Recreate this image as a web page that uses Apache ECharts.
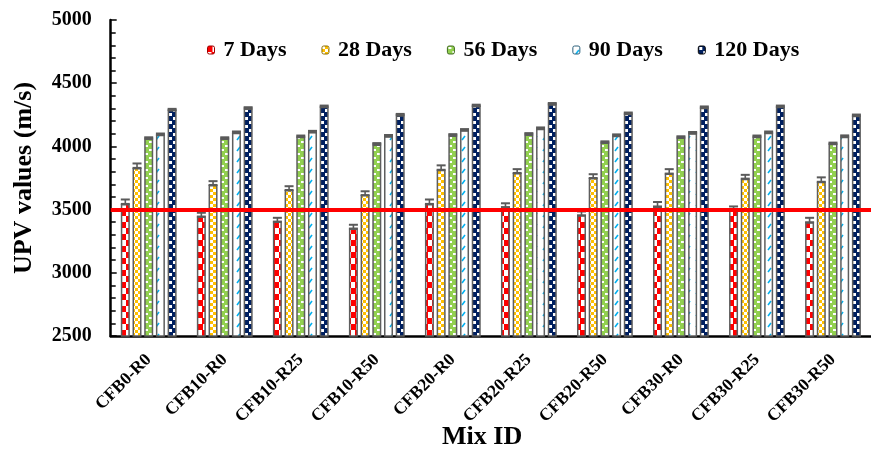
<!DOCTYPE html>
<html>
<head>
<meta charset="utf-8">
<script src="https://cdn.jsdelivr.net/npm/echarts@6/dist/echarts.min.js"></script>
<style>
html,body{margin:0;padding:0;background:#fff;}
#c{width:871px;height:452px;}
</style>
</head>
<body>
<div id="c"></div>
<script>
const categories = ['CFB0-R0','CFB10-R0','CFB10-R25','CFB10-R50','CFB20-R0','CFB20-R25','CFB20-R50','CFB30-R0','CFB30-R25','CFB30-R50'];
const seriesNames = ['7 Days','28 Days','56 Days','90 Days','120 Days'];
const days7   = [3545, 3445, 3405, 3350, 3545, 3520, 3455, 3525, 3495, 3400];
const days28  = [3830, 3695, 3655, 3615, 3815, 3790, 3750, 3785, 3745, 3720];
const days56  = [4062, 4062, 4076, 4016, 4087, 4095, 4030, 4070, 4076, 4020];
const days90  = [4092, 4108, 4113, 4080, 4127, 4140, 4085, 4104, 4108, 4077];
const days120 = [4287, 4300, 4313, 4247, 4320, 4333, 4258, 4306, 4313, 4242];
const err7   = [35, 30, 30, 30, 35, 30, 30, 35, 30, 35];
const err28  = [35, 30, 30, 30, 35, 30, 30, 35, 30, 35];
const err56  = [10, 10, 10, 10, 10, 10, 10, 10, 10, 10];
const err90  = [10, 10, 10, 10, 10, 10, 10, 10, 10, 10];
const err120 = [10, 10, 10, 10, 10, 10, 10, 10, 10, 10];
const refLine = 3495;
const yTicks = [2500, 3000, 3500, 4000, 4500, 5000];

const allValues = [days7, days28, days56, days90, days120];
const allErrors = [err7, err28, err56, err90, err120];

function pattern(w, h, draw) {
  const c = document.createElement('canvas');
  c.width = w; c.height = h;
  const ctx = c.getContext('2d');
  draw(ctx, w, h);
  return { image: c, repeat: 'repeat' };
}
const fills = [
  pattern(9, 12, (x) => { x.fillStyle = '#fff'; x.fillRect(0,0,9,12); x.fillStyle = '#FF0000'; x.fillRect(0,0,5,6); x.fillRect(4,6,5,6); }),
  pattern(6, 6, (x) => { x.fillStyle = '#FFC000'; x.fillRect(0,0,6,6); x.fillStyle = '#fff'; x.fillRect(0,0,3,3); x.fillRect(3,3,3,3); }),
  pattern(8, 8, (x) => { x.fillStyle = '#92D050'; x.fillRect(0,0,8,8); x.fillStyle = '#fff'; x.fillRect(1,1,3,2); x.fillRect(5,5,3,2); }),
  pattern(9, 11, (x) => { x.fillStyle = '#fff'; x.fillRect(0,0,9,11); x.strokeStyle = '#00B0F0'; x.lineWidth = 1.6; x.beginPath(); x.moveTo(3,8); x.lineTo(6,4); x.stroke(); }),
  pattern(8, 8, (x) => { x.fillStyle = '#002060'; x.fillRect(0,0,8,8); x.fillStyle = '#fff'; x.fillRect(1,1,3,3); x.fillRect(5,5,3,3); })
];
const legendBorders = ['#9b0000','#8a6d00','#3f6a1e','#2a5f7a','#000'];

const font = "'Liberation Serif','Times New Roman',serif";
const BAR_W = 9, BAR_GAP = 0.3;

const series = [];
seriesNames.forEach((name, i) => {
  series.push({
    name: name,
    type: 'bar',
    data: allValues[i],
    barWidth: BAR_W,
    barGap: (BAR_GAP * 100) + '%',
    itemStyle: { color: fills[i], borderColor: '#5e5e5e', borderWidth: 1.5 },
    z: 2
  });
});
seriesNames.forEach((name, i) => {
  series.push({
    type: 'custom',
    name: name + ' err',
    z: 3,
    silent: true,
    data: allValues[i].map((v, k) => [k, v, allErrors[i][k]]),
    renderItem: function (params, api) {
      const cat = api.value(0), v = api.value(1), e = api.value(2);
      const off = (i - 2) * BAR_W * (1 + BAR_GAP);
      const lo = api.coord([cat, v]);
      const hi = api.coord([cat, v + e]);
      const x = lo[0] + off;
      const hw = 4.5;
      return { type: 'group', children: [
        { type: 'line', shape: { x1: x, y1: lo[1], x2: x, y2: hi[1] }, style: { stroke: '#5a5a5a', lineWidth: 1.6 } },
        { type: 'line', shape: { x1: x - hw, y1: hi[1], x2: x + hw, y2: hi[1] }, style: { stroke: '#5a5a5a', lineWidth: 2 } },
        { type: 'line', shape: { x1: x - hw, y1: lo[1], x2: x + hw, y2: lo[1] }, style: { stroke: '#5a5a5a', lineWidth: 2 } }
      ]};
    }
  });
});
series.push({
  type: 'line',
  name: 'ref',
  data: [],
  z: 5,
  markLine: {
    silent: true,
    symbol: 'none',
    label: { show: false },
    lineStyle: { color: '#FF0000', width: 4, type: 'solid' },
    data: [{ yAxis: refLine }]
  }
});

const chart = echarts.init(document.getElementById('c'), null, { renderer: 'canvas' });
chart.setOption({
  animation: false,
  backgroundColor: '#fff',
  grid: { left: 110.7, right: -12.7, top: 20, bottom: 116, containLabel: false },
  legend: {
    data: seriesNames.map((n, i) => ({
      name: n,
      itemStyle: { color: fills[i], borderColor: legendBorders[i], borderWidth: 1 }
    })),
    left: 202, top: 34, itemWidth: 7, itemHeight: 8, itemGap: 35,
    textStyle: { fontFamily: font, fontWeight: 'bold', fontSize: 22, color: '#000', padding: [0, 0, 0, 4] }
  },
  xAxis: {
    type: 'category',
    data: categories,
    axisLine: { lineStyle: { color: '#000', width: 2.5 } },
    axisTick: { show: false },
    axisLabel: { interval: 0, rotate: 45, margin: 21, fontFamily: font, fontWeight: 'bold', fontSize: 17.5, color: '#000' },
    splitLine: { show: false }
  },
  yAxis: {
    type: 'value',
    min: yTicks[0], max: yTicks[yTicks.length - 1], interval: 500,
    name: 'UPV values (m/s)',
    nameLocation: 'middle', nameGap: 73, nameRotate: 90,
    nameTextStyle: { fontFamily: font, fontWeight: 'bold', fontSize: 26, color: '#000' },
    axisLine: { show: true, lineStyle: { color: '#000', width: 2.5 } },
    axisTick: { show: true, inside: true, length: 6, lineStyle: { color: '#000', width: 1.5 } },
    minorTick: { show: true, splitNumber: 5, length: 5, lineStyle: { color: '#000', width: 1.5 } },
    axisLabel: { margin: 19, fontFamily: font, fontWeight: 'bold', fontSize: 20, color: '#000', formatter: (v) => String(v) },
    splitLine: { show: false }
  },
  graphic: [{
    type: 'text', left: 442, top: 424,
    style: { text: 'Mix ID', font: "bold 26px 'Liberation Serif','Times New Roman',serif", fill: '#000' }
  }],
  series: series
});
</script>
</body>
</html>
